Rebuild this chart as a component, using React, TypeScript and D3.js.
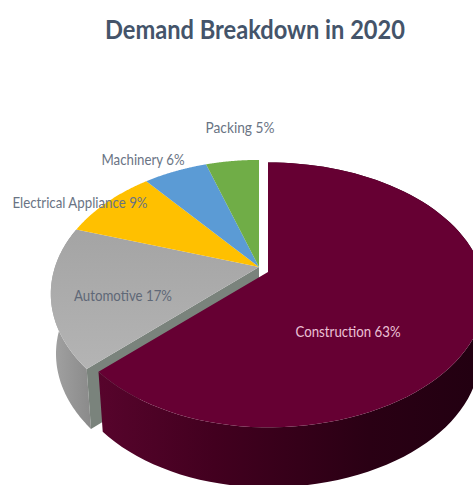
import React from "react";
import * as d3 from "d3";

const categories = ["Construction", "Automotive", "Electrical Appliance", "Machinery", "Packing"];
const shares = [63, 17, 9, 6, 5];
const chartTitle = "Demand Breakdown in 2020";

const WIDTH = 473;
const HEIGHT = 485;
const fills = ["#660033", "#a5a5a5", "#ffc000", "#5b9bd5", "#70ad47"];
const labelCentres: [number, number][] = [[348, 332], [123, 296], [80, 203], [143, 160], [240, 128]];
const labelFills = ["#ecc0d6", "#5f6877", "#6a7484", "#6a7484", "#6a7484"];
const labelWidths = [105, 98, 135, 83, 69];

// Perspective view of the disc: the hub sits above the centre of the visible ellipse,
// and the lower rim of the wall is a little narrower than the upper one.
type Disc = { x: number; y: number; a: number; aRight: number; b: number; tilt: number };
const mainDisc: Disc = { x: 259, y: 267, a: 204, aRight: 204, b: 128.5, tilt: 0.2 };
const explodedDisc: Disc = { x: 268, y: 272, a: 205, aRight: 214, b: 128.5, tilt: 0.173 };
const lowerRimScale = 0.975;
const wallDepth = 60;

const rim = (d: Disc, t: number): [number, number] => {
  const w = 1 + d.tilt * Math.cos(t);
  const s = Math.sin(t);
  return [d.x + ((s > 0 ? d.aRight : d.a) * s) / w, d.y - (d.b * Math.cos(t)) / w];
};

const lowerRim = (d: Disc, t: number): [number, number] => {
  const [x, y] = rim(d, t);
  return [d.x + (x - d.x) * lowerRimScale, y + wallDepth];
};

const sweep = (t0: number, t1: number) =>
  d3.range(0, 91).map((i) => t0 + ((t1 - t0) * i) / 90);

const line = d3.line();
const arcs = d3.pie<number>().sort(null)(shares);

const wedge = (d: Disc, t0: number, t1: number) =>
  line([[d.x, d.y], ...sweep(t0, t1).map((t) => rim(d, t))])! + "Z";

const wall = (d: Disc, t0: number, t1: number) =>
  line([
    ...sweep(t0, t1).map((t) => rim(d, t)),
    ...sweep(t1, t0).map((t) => lowerRim(d, t)),
  ])! + "Z";

export default function App() {
  const [big, grey] = arcs;
  const cutFace = line([
    [mainDisc.x, mainDisc.y],
    rim(mainDisc, big.endAngle),
    lowerRim(mainDisc, big.endAngle),
    [mainDisc.x, mainDisc.y + wallDepth],
  ])! + "Z";

  return (
    <svg
      width={WIDTH}
      height={HEIGHT}
      viewBox={`0 0 ${WIDTH} ${HEIGHT}`}
      style={{ position: "absolute", left: 0, top: 0, background: "#fff", fontFamily: "Lato" }}
    >
      <defs>
        <linearGradient id="wall-maroon" x1="0" x2="1" y1="0" y2="0">
          <stop offset="0" stopColor="#57042c" />
          <stop offset="0.3" stopColor="#42001f" />
          <stop offset="0.7" stopColor="#2a0014" />
          <stop offset="1" stopColor="#220011" />
        </linearGradient>
        <linearGradient id="wall-grey" x1="0" x2="1" y1="0" y2="0">
          <stop offset="0" stopColor="#a3a3a3" />
          <stop offset="1" stopColor="#8a8a8a" />
        </linearGradient>
        <linearGradient id="top-grey" x1="0" x2="0" y1="0" y2="1">
          <stop offset="0" stopColor="#a4a4a4" />
          <stop offset="1" stopColor="#b4b4b4" />
        </linearGradient>
      </defs>

      <path d={wall(mainDisc, big.endAngle, grey.endAngle)} fill="url(#wall-grey)" />
      <path d={cutFace} fill="#7a837c" />
      {arcs.slice(1).map((s, i) => (
        <path
          key={categories[i + 1]}
          d={wedge(mainDisc, s.startAngle, s.endAngle)}
          fill={i === 0 ? "url(#top-grey)" : fills[i + 1]}
        />
      ))}
      <path d={wall(explodedDisc, big.startAngle, big.endAngle)} fill="url(#wall-maroon)" />
      <path d={wedge(explodedDisc, big.startAngle, big.endAngle)} fill={fills[0]} />

      <text
        x={255}
        y={39}
        textAnchor="middle"
        fontSize={26}
        fontWeight={700}
        fill="#44546a"
        textLength={300}
        lengthAdjust="spacingAndGlyphs"
      >
        {chartTitle}
      </text>
      {categories.map((c, i) => (
        <text
          key={c}
          x={labelCentres[i][0]}
          y={labelCentres[i][1]}
          dy="0.35em"
          textAnchor="middle"
          fontSize={15}
          fill={labelFills[i]}
          textLength={labelWidths[i]}
          lengthAdjust="spacingAndGlyphs"
        >
          {`${c} ${shares[i]}%`}
        </text>
      ))}
    </svg>
  );
}
